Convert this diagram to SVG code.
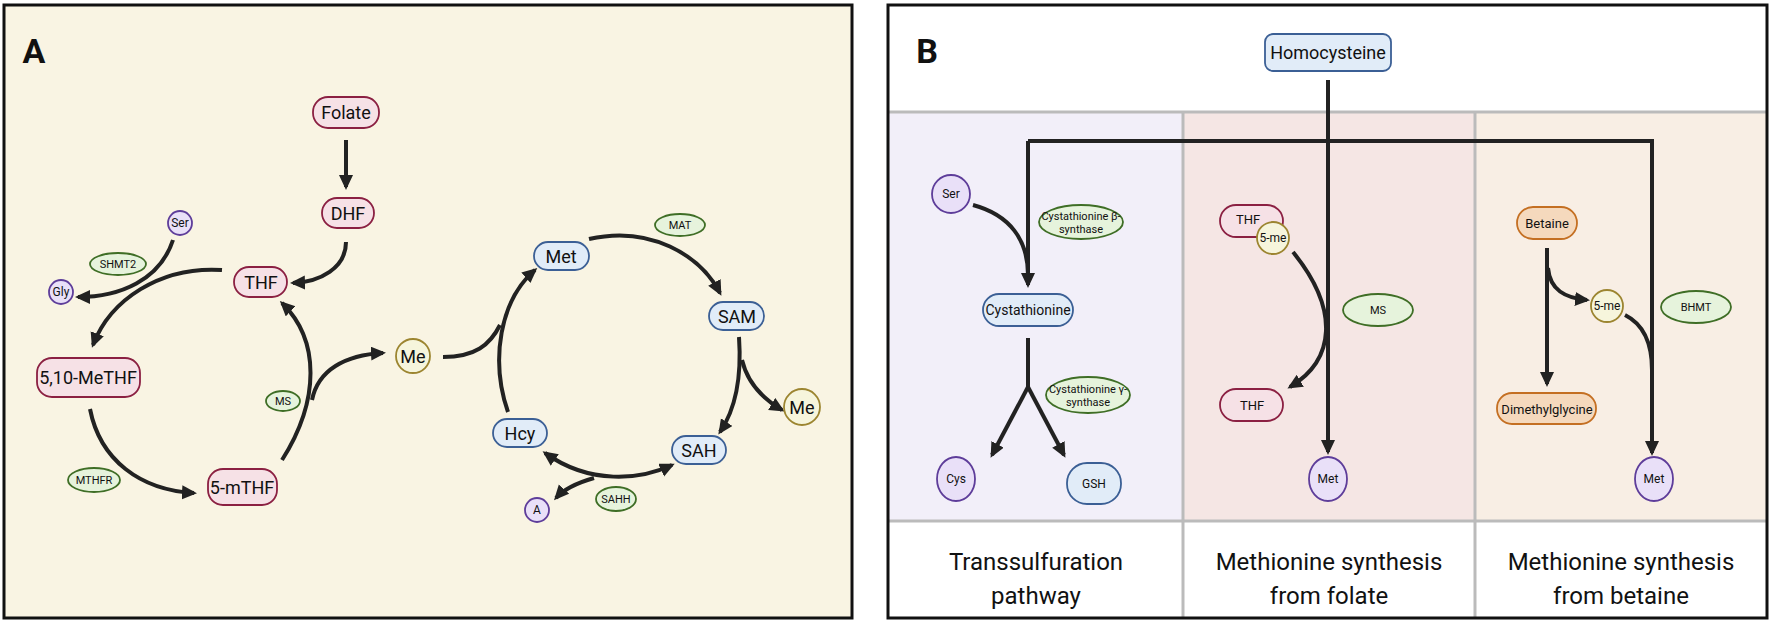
<svg xmlns="http://www.w3.org/2000/svg" width="1772" height="623" viewBox="0 0 1772 623">
<style>
text{font-family:Roboto,"Liberation Sans",sans-serif;text-anchor:middle;dominant-baseline:central;fill:#111}
.pk{fill:#f6e1e6;stroke:#8b2042;stroke-width:1.8}
.bl{fill:#e1ecf8;stroke:#3b5f95;stroke-width:1.8}
.ye{fill:#f6f5dc;stroke:#9c8530;stroke-width:1.8}
.pu{fill:#e9e0f8;stroke:#5e3d9a;stroke-width:1.8}
.gr{fill:#e6f3dc;stroke:#3f6e26;stroke-width:1.8}
.or{fill:#f5d9bd;stroke:#c46f22;stroke-width:1.8}
.c path{fill:none;stroke:#222;stroke-width:4}
.a{marker-end:url(#ar)}
.n{font-size:18px}.s{font-size:12px}.e{font-size:11px}.f{font-size:24px}
</style>
<defs><marker id="ar" markerUnits="userSpaceOnUse" markerWidth="16" markerHeight="16" refX="12" refY="7" orient="auto-start-reverse"><path d="M0,0 L15,7 L0,14 z" fill="#222"/></marker></defs>
<rect x="4" y="5" width="848" height="613" fill="#f9f4e3" stroke="#111" stroke-width="3"/>
<rect x="888" y="5" width="879" height="613" fill="#fff"/>
<rect x="888" y="112" width="295" height="409" fill="#f2eff9"/>
<rect x="1183" y="112" width="292" height="409" fill="#f5e6e4"/>
<rect x="1475" y="112" width="292" height="409" fill="#f8eee4"/>
<g stroke="#bbb" stroke-width="3"><path d="M888,112 H1767 M888,521 H1767 M1183,112 V618 M1475,112 V618"/></g>
<rect x="888" y="5" width="879" height="613" fill="none" stroke="#111" stroke-width="3"/>
<text x="34" y="51" style="font-size:34px;font-weight:bold">A</text>
<text x="927" y="51" style="font-size:34px;font-weight:bold">B</text>
<g class="c">
<path class="a" d="M346,140 L346,187"/>
<path class="a" d="M346,242 C346,268 320,282 293,283"/>
<path class="a" d="M222,270 C160,266 110,300 93,345"/>
<path class="a" d="M173,240 C160,280 120,297 78,297"/>
<path class="a" d="M90,409 C100,460 140,490 194,493"/>
<path class="a" d="M282,460 C320,400 320,340 282,303"/>
<path class="a" d="M312,400 C318,370 345,355 383,353"/>
<path d="M443,357 C475,357 490,345 500,325"/>
<path class="a" d="M508,412 C490,360 500,300 535,270"/>
<path class="a" d="M589,239 C650,225 700,255 720,293"/>
<path class="a" d="M739,337 C742,380 735,410 720,432"/>
<path class="a" d="M742,360 C748,385 765,400 782,410"/>
<path class="a" style="marker-start:url(#ar)" d="M545,453 C590,485 640,480 672,465"/>
<path class="a" d="M594,478 C580,482 565,488 556,498"/>
<path class="a" d="M1328,80 L1328,452"/>
<path class="a" d="M1028,141 L1028,285"/>
<path class="a" d="M1028,141 L1652,141 L1652,453"/>
<path d="M973,205 C1010,215 1028,240 1028,275"/>
<path d="M1028,338 L1028,387"/>
<path class="a" d="M1028,387 L992,455"/>
<path class="a" d="M1028,387 L1064,455"/>
<path class="a" d="M1293,252 C1340,310 1335,360 1290,387"/>
<path class="a" d="M1547,248 L1547,384"/>
<path class="a" d="M1548,268 C1550,290 1565,298 1587,300"/>
<path d="M1625,315 C1645,325 1652,345 1652,370"/>
</g>
<g id="folate"><rect class="pk" x="313" y="97" width="66" height="31" rx="15"/><text class="n" x="346" y="112">Folate</text></g>
<g id="dhf"><rect class="pk" x="322" y="198" width="52" height="30" rx="15"/><text class="n" x="348" y="213">DHF</text></g>
<g id="thf"><rect class="pk" x="234" y="267" width="53" height="30" rx="15"/><text class="n" x="261" y="282">THF</text></g>
<g id="ser"><circle class="pu" cx="180" cy="223" r="12"/><text class="s" x="180" y="223">Ser</text></g>
<g id="gly"><circle class="pu" cx="61" cy="292" r="12"/><text class="s" x="61" y="292">Gly</text></g>
<g id="shmt2"><ellipse class="gr" cx="118" cy="264" rx="28" ry="11"/><text class="e" x="118" y="264">SHMT2</text></g>
<g id="metthf"><rect class="pk" x="37" y="358" width="103" height="39" rx="15"/><text class="n" x="88" y="377">5,10-MeTHF</text></g>
<g id="mthfr"><ellipse class="gr" cx="94" cy="480" rx="26" ry="12"/><text class="e" x="94" y="480">MTHFR</text></g>
<g id="mthf5"><rect class="pk" x="208" y="469" width="69" height="36" rx="15"/><text class="n" x="242" y="487">5-mTHF</text></g>
<g id="ms1"><ellipse class="gr" cx="283" cy="401" rx="17" ry="10"/><text class="e" x="283" y="401">MS</text></g>
<g id="me1"><circle class="ye" cx="413" cy="356" r="17"/><text class="n" x="413" y="356">Me</text></g>
<g id="met"><rect class="bl" x="534" y="242" width="55" height="28" rx="14"/><text class="n" x="561" y="256">Met</text></g>
<g id="mat"><ellipse class="gr" cx="680" cy="225" rx="25" ry="11"/><text class="e" x="680" y="225">MAT</text></g>
<g id="sam"><rect class="bl" x="709" y="302" width="55" height="28" rx="14"/><text class="n" x="737" y="316">SAM</text></g>
<g id="me2"><circle class="ye" cx="802" cy="407" r="18"/><text class="n" x="802" y="407">Me</text></g>
<g id="sah"><rect class="bl" x="672" y="436" width="54" height="28" rx="14"/><text class="n" x="699" y="450">SAH</text></g>
<g id="hcy"><rect class="bl" x="493" y="419" width="54" height="28" rx="14"/><text class="n" x="520" y="433">Hcy</text></g>
<g id="aden"><circle class="pu" cx="537" cy="510" r="12"/><text class="s" x="537" y="510">A</text></g>
<g id="sahh"><ellipse class="gr" cx="616" cy="499" rx="20" ry="12"/><text class="e" x="616" y="499">SAHH</text></g>
<g id="homocysteine"><rect class="bl" x="1265" y="34" width="126" height="37" rx="8"/><text class="n" x="1328" y="52">Homocysteine</text></g>
<g id="serB"><circle class="pu" cx="951" cy="194" r="19"/><text class="s" x="951" y="194">Ser</text></g>
<g id="cbs"><ellipse class="gr" cx="1081" cy="222" rx="42" ry="17"/><text class="e" x="1081" y="216">Cystathionine β-</text><text class="e" x="1081" y="229">synthase</text></g>
<g id="cysta"><rect class="bl" x="983" y="294" width="90" height="32" rx="16"/><text class="n" x="1028" y="310" style="font-size:14px">Cystathionine</text></g>
<g id="cgs"><ellipse class="gr" cx="1088" cy="395" rx="42" ry="18"/><text class="e" x="1088" y="389">Cystathionine γ-</text><text class="e" x="1088" y="402">synthase</text></g>
<g id="cys"><ellipse class="pu" cx="956" cy="479" rx="19" ry="22"/><text class="s" x="956" y="479">Cys</text></g>
<g id="gsh"><rect class="bl" x="1067" y="463" width="54" height="41" rx="20"/><text class="s" x="1094" y="484">GSH</text></g>
<g id="thfB1"><rect class="pk" x="1220" y="205" width="63" height="32" rx="16"/><text class="s" x="1248" y="219" style="font-size:13px">THF</text><circle class="ye" cx="1273" cy="238" r="16"/><text class="s" x="1273" y="238">5-me</text></g>
<g id="msB"><ellipse class="gr" cx="1378" cy="310" rx="35" ry="16"/><text class="e" x="1378" y="310">MS</text></g>
<g id="thfB2"><rect class="pk" x="1220" y="389" width="63" height="32" rx="16"/><text class="s" x="1252" y="405" style="font-size:13px">THF</text></g>
<g id="metB1"><ellipse class="pu" cx="1328" cy="479" rx="19" ry="22"/><text class="s" x="1328" y="479">Met</text></g>
<g id="betaine"><rect class="or" x="1517" y="207" width="60" height="32" rx="16"/><text class="s" x="1547" y="223" style="font-size:13px">Betaine</text></g>
<g id="me5B"><circle class="ye" cx="1607" cy="306" r="16"/><text class="s" x="1607" y="306">5-me</text></g>
<g id="bhmt"><ellipse class="gr" cx="1696" cy="307" rx="35" ry="16"/><text class="e" x="1696" y="307">BHMT</text></g>
<g id="dmg"><rect class="or" x="1497" y="393" width="99" height="31" rx="15"/><text class="s" x="1547" y="409" style="font-size:13px">Dimethylglycine</text></g>
<g id="metB2"><ellipse class="pu" cx="1654" cy="479" rx="19" ry="22"/><text class="s" x="1654" y="479">Met</text></g>
<text class="f" x="1036" y="562">Transsulfuration</text><text class="f" x="1036" y="596">pathway</text>
<text class="f" x="1329" y="562">Methionine synthesis</text><text class="f" x="1329" y="596">from folate</text>
<text class="f" x="1621" y="562">Methionine synthesis</text><text class="f" x="1621" y="596">from betaine</text>
</svg>
